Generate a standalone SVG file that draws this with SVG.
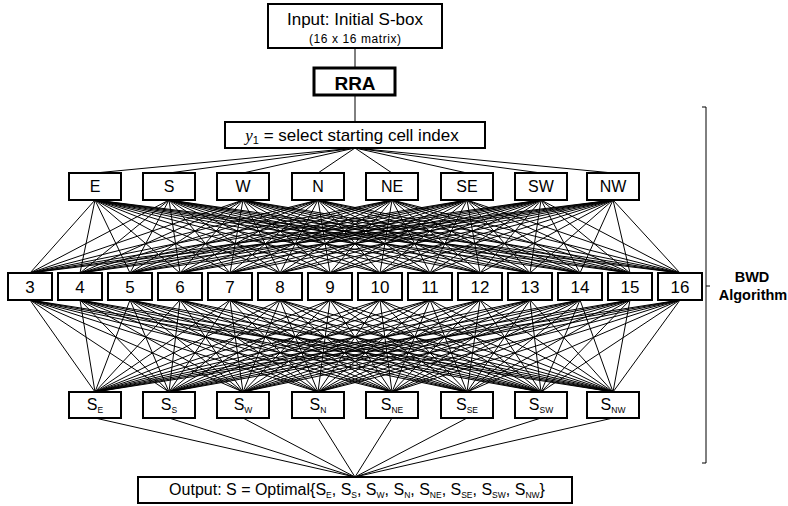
<svg xmlns="http://www.w3.org/2000/svg" width="788" height="506" viewBox="0 0 788 506">
<style>
.box{fill:#fff;stroke:#000;stroke-width:2}
.thick{fill:#fff;stroke:#000;stroke-width:3}
.lbl{font-family:"Liberation Sans",Arial,sans-serif;fill:#000;text-anchor:middle}
.sub{font-size:8.5px}
.con{stroke:#000;stroke-width:1;fill:none}
</style>
<rect width="788" height="506" fill="#fff"/>
<g id="connectors" class="con">
<path d="M355 48V68M355 95V122"/>
<path d="M355 148L95 173M355 148L169 173M355 148L243 173M355 148L318 173M355 148L392 173M355 148L467 173M355 148L541 173M355 148L613 173"/>
<path d="M95 200L30 273M95 200L80 273M95 200L130 273M95 200L180 273M95 200L230 273M95 200L280 273M95 200L330 273M95 200L380 273M95 200L430 273M95 200L480 273M95 200L530 273M95 200L580 273M95 200L630 273M95 200L680 273"/>
<path d="M169 200L30 273M169 200L80 273M169 200L130 273M169 200L180 273M169 200L230 273M169 200L280 273M169 200L330 273M169 200L380 273M169 200L430 273M169 200L480 273M169 200L530 273M169 200L580 273M169 200L630 273M169 200L680 273"/>
<path d="M243 200L30 273M243 200L80 273M243 200L130 273M243 200L180 273M243 200L230 273M243 200L280 273M243 200L330 273M243 200L380 273M243 200L430 273M243 200L480 273M243 200L530 273M243 200L580 273M243 200L630 273M243 200L680 273"/>
<path d="M318 200L30 273M318 200L80 273M318 200L130 273M318 200L180 273M318 200L230 273M318 200L280 273M318 200L330 273M318 200L380 273M318 200L430 273M318 200L480 273M318 200L530 273M318 200L580 273M318 200L630 273M318 200L680 273"/>
<path d="M392 200L30 273M392 200L80 273M392 200L130 273M392 200L180 273M392 200L230 273M392 200L280 273M392 200L330 273M392 200L380 273M392 200L430 273M392 200L480 273M392 200L530 273M392 200L580 273M392 200L630 273M392 200L680 273"/>
<path d="M467 200L30 273M467 200L80 273M467 200L130 273M467 200L180 273M467 200L230 273M467 200L280 273M467 200L330 273M467 200L380 273M467 200L430 273M467 200L480 273M467 200L530 273M467 200L580 273M467 200L630 273M467 200L680 273"/>
<path d="M541 200L30 273M541 200L80 273M541 200L130 273M541 200L180 273M541 200L230 273M541 200L280 273M541 200L330 273M541 200L380 273M541 200L430 273M541 200L480 273M541 200L530 273M541 200L580 273M541 200L630 273M541 200L680 273"/>
<path d="M613 200L30 273M613 200L80 273M613 200L130 273M613 200L180 273M613 200L230 273M613 200L280 273M613 200L330 273M613 200L380 273M613 200L430 273M613 200L480 273M613 200L530 273M613 200L580 273M613 200L630 273M613 200L680 273"/>
<path d="M95 392L30 300M95 392L80 300M95 392L130 300M95 392L180 300M95 392L230 300M95 392L280 300M95 392L330 300M95 392L380 300M95 392L430 300M95 392L480 300M95 392L530 300M95 392L580 300M95 392L630 300M95 392L680 300"/>
<path d="M169 392L30 300M169 392L80 300M169 392L130 300M169 392L180 300M169 392L230 300M169 392L280 300M169 392L330 300M169 392L380 300M169 392L430 300M169 392L480 300M169 392L530 300M169 392L580 300M169 392L630 300M169 392L680 300"/>
<path d="M243 392L30 300M243 392L80 300M243 392L130 300M243 392L180 300M243 392L230 300M243 392L280 300M243 392L330 300M243 392L380 300M243 392L430 300M243 392L480 300M243 392L530 300M243 392L580 300M243 392L630 300M243 392L680 300"/>
<path d="M318 392L30 300M318 392L80 300M318 392L130 300M318 392L180 300M318 392L230 300M318 392L280 300M318 392L330 300M318 392L380 300M318 392L430 300M318 392L480 300M318 392L530 300M318 392L580 300M318 392L630 300M318 392L680 300"/>
<path d="M392 392L30 300M392 392L80 300M392 392L130 300M392 392L180 300M392 392L230 300M392 392L280 300M392 392L330 300M392 392L380 300M392 392L430 300M392 392L480 300M392 392L530 300M392 392L580 300M392 392L630 300M392 392L680 300"/>
<path d="M467 392L30 300M467 392L80 300M467 392L130 300M467 392L180 300M467 392L230 300M467 392L280 300M467 392L330 300M467 392L380 300M467 392L430 300M467 392L480 300M467 392L530 300M467 392L580 300M467 392L630 300M467 392L680 300"/>
<path d="M541 392L30 300M541 392L80 300M541 392L130 300M541 392L180 300M541 392L230 300M541 392L280 300M541 392L330 300M541 392L380 300M541 392L430 300M541 392L480 300M541 392L530 300M541 392L580 300M541 392L630 300M541 392L680 300"/>
<path d="M613 392L30 300M613 392L80 300M613 392L130 300M613 392L180 300M613 392L230 300M613 392L280 300M613 392L330 300M613 392L380 300M613 392L430 300M613 392L480 300M613 392L530 300M613 392L580 300M613 392L630 300M613 392L680 300"/>
<path d="M95 418L355 477M169 418L355 477M243 418L355 477M318 418L355 477M392 418L355 477M467 418L355 477M541 418L355 477M613 418L355 477"/>
</g>
<g id="input"><rect class="box" x="268" y="4" width="174" height="44"/>
<text class="lbl" x="355" y="25" font-size="17">Input: Initial S-box</text>
<text class="lbl" x="355" y="43" font-size="12" textLength="92" lengthAdjust="spacing">(16 x 16 matrix)</text></g>
<g id="rra"><rect class="thick" x="314" y="68" width="81" height="27"/>
<text class="lbl" x="355" y="90" font-size="19" font-weight="bold">RRA</text></g>
<g id="select"><rect class="box" x="225" y="122" width="260" height="26"/>
<text class="lbl" x="352" y="141" font-size="17"><tspan font-family="Liberation Serif" font-style="italic">y</tspan><tspan font-size="11" dy="3">1</tspan><tspan dy="-3"> = select starting cell index</tspan></text></g>
<g id="dir-E"><rect class="box" x="69" y="173" width="52" height="27"/><text class="lbl" x="95" y="192" font-size="16">E</text></g>
<g id="dir-S"><rect class="box" x="143" y="173" width="52" height="27"/><text class="lbl" x="169" y="192" font-size="16">S</text></g>
<g id="dir-W"><rect class="box" x="217" y="173" width="52" height="27"/><text class="lbl" x="243" y="192" font-size="16">W</text></g>
<g id="dir-N"><rect class="box" x="292" y="173" width="52" height="27"/><text class="lbl" x="318" y="192" font-size="16">N</text></g>
<g id="dir-NE"><rect class="box" x="366" y="173" width="52" height="27"/><text class="lbl" x="392" y="192" font-size="16">NE</text></g>
<g id="dir-SE"><rect class="box" x="441" y="173" width="52" height="27"/><text class="lbl" x="467" y="192" font-size="16">SE</text></g>
<g id="dir-SW"><rect class="box" x="515" y="173" width="52" height="27"/><text class="lbl" x="541" y="192" font-size="16">SW</text></g>
<g id="dir-NW"><rect class="box" x="587" y="173" width="52" height="27"/><text class="lbl" x="613" y="192" font-size="16">NW</text></g>
<g id="n3"><rect class="box" x="8" y="273" width="44" height="27"/><text class="lbl" x="30" y="293" font-size="17">3</text></g>
<g id="n4"><rect class="box" x="58" y="273" width="44" height="27"/><text class="lbl" x="80" y="293" font-size="17">4</text></g>
<g id="n5"><rect class="box" x="108" y="273" width="44" height="27"/><text class="lbl" x="130" y="293" font-size="17">5</text></g>
<g id="n6"><rect class="box" x="158" y="273" width="44" height="27"/><text class="lbl" x="180" y="293" font-size="17">6</text></g>
<g id="n7"><rect class="box" x="208" y="273" width="44" height="27"/><text class="lbl" x="230" y="293" font-size="17">7</text></g>
<g id="n8"><rect class="box" x="258" y="273" width="44" height="27"/><text class="lbl" x="280" y="293" font-size="17">8</text></g>
<g id="n9"><rect class="box" x="308" y="273" width="44" height="27"/><text class="lbl" x="330" y="293" font-size="17">9</text></g>
<g id="n10"><rect class="box" x="358" y="273" width="44" height="27"/><text class="lbl" x="380" y="293" font-size="17">10</text></g>
<g id="n11"><rect class="box" x="408" y="273" width="44" height="27"/><text class="lbl" x="430" y="293" font-size="17">11</text></g>
<g id="n12"><rect class="box" x="458" y="273" width="44" height="27"/><text class="lbl" x="480" y="293" font-size="17">12</text></g>
<g id="n13"><rect class="box" x="508" y="273" width="44" height="27"/><text class="lbl" x="530" y="293" font-size="17">13</text></g>
<g id="n14"><rect class="box" x="558" y="273" width="44" height="27"/><text class="lbl" x="580" y="293" font-size="17">14</text></g>
<g id="n15"><rect class="box" x="608" y="273" width="44" height="27"/><text class="lbl" x="630" y="293" font-size="17">15</text></g>
<g id="n16"><rect class="box" x="658" y="273" width="44" height="27"/><text class="lbl" x="680" y="293" font-size="17">16</text></g>
<g id="s-E"><rect class="box" x="69" y="392" width="52" height="26"/><text class="lbl" x="95" y="410" font-size="16">S<tspan class="sub" dy="3">E</tspan></text></g>
<g id="s-S"><rect class="box" x="143" y="392" width="52" height="26"/><text class="lbl" x="169" y="410" font-size="16">S<tspan class="sub" dy="3">S</tspan></text></g>
<g id="s-W"><rect class="box" x="217" y="392" width="52" height="26"/><text class="lbl" x="243" y="410" font-size="16">S<tspan class="sub" dy="3">W</tspan></text></g>
<g id="s-N"><rect class="box" x="292" y="392" width="52" height="26"/><text class="lbl" x="318" y="410" font-size="16">S<tspan class="sub" dy="3">N</tspan></text></g>
<g id="s-NE"><rect class="box" x="366" y="392" width="52" height="26"/><text class="lbl" x="392" y="410" font-size="16">S<tspan class="sub" dy="3">NE</tspan></text></g>
<g id="s-SE"><rect class="box" x="441" y="392" width="52" height="26"/><text class="lbl" x="467" y="410" font-size="16">S<tspan class="sub" dy="3">SE</tspan></text></g>
<g id="s-SW"><rect class="box" x="515" y="392" width="52" height="26"/><text class="lbl" x="541" y="410" font-size="16">S<tspan class="sub" dy="3">SW</tspan></text></g>
<g id="s-NW"><rect class="box" x="587" y="392" width="52" height="26"/><text class="lbl" x="613" y="410" font-size="16">S<tspan class="sub" dy="3">NW</tspan></text></g>
<g id="output"><rect class="box" x="138" y="477" width="434" height="26"/>
<text class="lbl" x="357" y="495" font-size="16">Output: S = Optimal{S<tspan class="sub" dy="3">E</tspan><tspan dy="-3">, S</tspan><tspan class="sub" dy="3">S</tspan><tspan dy="-3">, S</tspan><tspan class="sub" dy="3">W</tspan><tspan dy="-3">, S</tspan><tspan class="sub" dy="3">N</tspan><tspan dy="-3">, S</tspan><tspan class="sub" dy="3">NE</tspan><tspan dy="-3">, S</tspan><tspan class="sub" dy="3">SE</tspan><tspan dy="-3">, S</tspan><tspan class="sub" dy="3">SW</tspan><tspan dy="-3">, S</tspan><tspan class="sub" dy="3">NW</tspan><tspan dy="-3">}</tspan></text></g>
<g id="bwd">
<path d="M702 107H706V463H702M706 286H710" fill="none" stroke="#000" stroke-width="1"/>
<text class="lbl" x="752" y="282" font-size="14.5" font-weight="bold">BWD</text>
<text class="lbl" x="753" y="300" font-size="14.5" font-weight="bold">Algorithm</text>
</g>
</svg>
